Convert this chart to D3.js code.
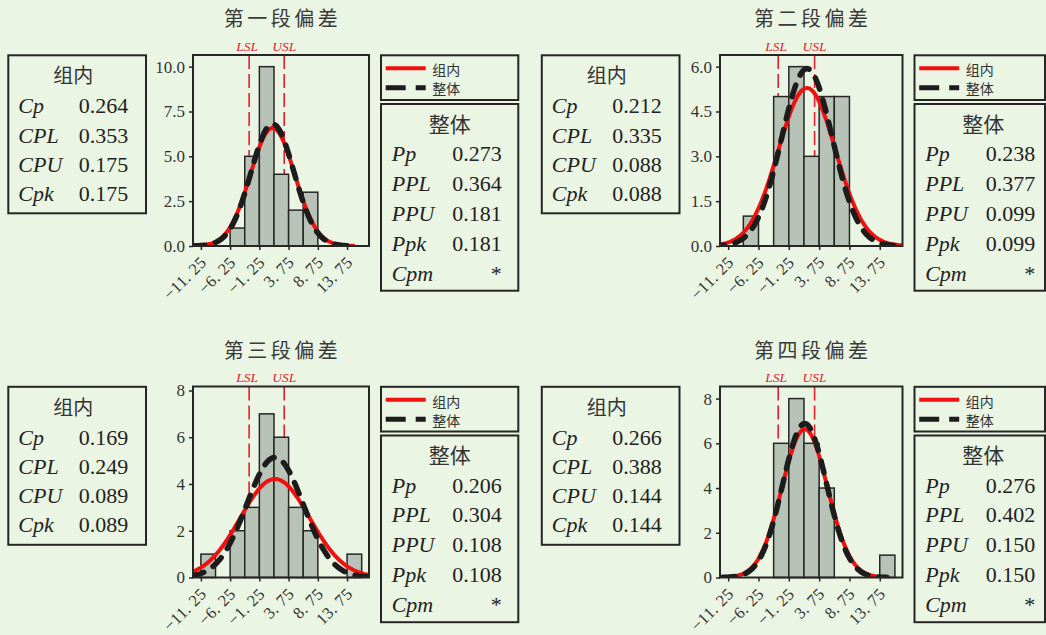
<!DOCTYPE html>
<html>
<head>
<meta charset="utf-8">
<script src="https://cdn.jsdelivr.net/npm/d3@7"></script>
<style>
  body { margin: 0; background: #ebf5e3; }
  svg { display: block; }
</style>
</head>
<body>
<svg id="chart"></svg>
<script>
const titles = ['第一段偏差', '第二段偏差', '第三段偏差', '第四段偏差'];
const binStarts = [-11.25, -8.75, -6.25, -3.75, -1.25, 1.25, 3.75, 6.25, 8.75, 11.25, 13.75];
const binWidth = 2.5;
const counts = [
  [0, 0, 1, 5, 10, 4, 2, 3, 0, 0, 0],
  [0, 1, 0, 5, 6, 3, 5, 5, 0, 0, 0],
  [1, 0, 2, 3, 7, 6, 3, 2, 0, 0, 1],
  [0, 0, 0, 6, 8, 6, 4, 0, 0, 0, 1]
];
const withinLabels = ['Cp', 'CPL', 'CPU', 'Cpk'];
const withinValues = [
  ['0.264', '0.353', '0.175', '0.175'],
  ['0.212', '0.335', '0.088', '0.088'],
  ['0.169', '0.249', '0.089', '0.089'],
  ['0.266', '0.388', '0.144', '0.144']
];
const overallLabels = ['Pp', 'PPL', 'PPU', 'Ppk', 'Cpm'];
const overallValues = [
  ['0.273', '0.364', '0.181', '0.181', '*'],
  ['0.238', '0.377', '0.099', '0.099', '*'],
  ['0.206', '0.304', '0.108', '0.108', '*'],
  ['0.276', '0.402', '0.150', '0.150', '*']
];
const xTicks = [-11.25, -6.25, -1.25, 3.75, 8.75, 13.75];
const yTicks = [[0, 2.5, 5, 7.5, 10], [0, 1.5, 3, 4.5, 6], [0, 2, 4, 6, 8], [0, 2, 4, 6, 8]];
const yMax = [10.65, 6.39, 8.17, 8.54];
const specLow = -3, specHigh = 3;
const sampleSize = 25;
const legendNames = ['组内', '整体'];

const W = 1046, H = 635;
const serif = "'Liberation Serif', 'Times New Roman', serif";
const cjk = "'Noto Sans CJK SC', 'Noto Sans', sans-serif";
const red = '#f01010';
const specRed = '#e3202b';
const ink = '#262626';

const svg = d3.select('#chart').attr('width', W).attr('height', H);
svg.append('rect').attr('width', W).attr('height', H).attr('fill', '#ebf5e3');

const colX = [0, 533.5];
const rowY = [0, 331.5];
const frameLeft = [193, 720];

// normal curve from the capability indices: sigma = (USL-LSL)/(6*Cp), mean from CPL
const fit = (cp, cpl) => {
  const sigma = (specHigh - specLow) / (6 * cp);
  return { sigma, mean: specLow + 3 * sigma * cpl };
};

titles.forEach((title, p) => {
  const col = p % 2, row = Math.floor(p / 2);
  const dx = colX[col], dy = rowY[row];
  const left = frameLeft[col], right = 369 + dx;
  const top = 55 + dy, bottom = 246 + dy;

  const x = d3.scaleLinear().domain([-12.6, 17.5]).range([left, right]);
  const y = d3.scaleLinear().domain([0, yMax[p]]).range([bottom, top]);

  const g = svg.append('g');

  g.append('text')
    .attr('x', (left + right) / 2 + 1.5)
    .attr('y', 26 + dy)
    .attr('text-anchor', 'middle')
    .attr('font-family', cjk)
    .attr('font-size', 20)
    .attr('letter-spacing', 3.5)
    .attr('fill', '#3a3a3a')
    .text(title);

  // spec limits
  [specLow, specHigh].forEach((v, i) => {
    g.append('line')
      .attr('x1', x(v)).attr('x2', x(v))
      .attr('y1', top).attr('y2', bottom)
      .attr('stroke', specRed)
      .attr('stroke-width', 1.6)
      .attr('stroke-dasharray', '14,5');
    g.append('text')
      .attr('x', x(v) - (i === 0 ? 2 : 0))
      .attr('y', top - 4.5)
      .attr('text-anchor', 'middle')
      .attr('font-family', serif)
      .attr('font-style', 'italic')
      .attr('font-size', 13.5)
      .attr('fill', specRed)
      .text(i === 0 ? 'LSL' : 'USL');
  });

  // histogram
  g.append('g').selectAll('rect')
    .data(binStarts.map((s, i) => ({ s, c: counts[p][i] })).filter(d => d.c > 0))
    .join('rect')
    .attr('x', d => x(d.s))
    .attr('width', d => x(d.s + binWidth) - x(d.s))
    .attr('y', d => y(d.c))
    .attr('height', d => y(0) - y(d.c))
    .attr('fill', '#b8c3b8')
    .attr('stroke', ink)
    .attr('stroke-width', 1.5);

  const clipId = `clip${p}`;
  svg.append('clipPath').attr('id', clipId)
    .append('rect').attr('x', left).attr('y', top).attr('width', right - left).attr('height', bottom - top);

  const line = d3.line().x(d => x(d[0])).y(d => y(d[1]));
  const curve = ({ mean, sigma }) => {
    const lo = mean - 3.719 * sigma, hi = mean + 3.719 * sigma;
    return d3.range(201).map(i => {
      const v = lo + (hi - lo) * i / 200;
      const dens = Math.exp(-0.5 * ((v - mean) / sigma) ** 2) / (sigma * Math.sqrt(2 * Math.PI));
      return [v, dens * sampleSize * binWidth];
    });
  };
  const within = fit(+withinValues[p][0], +withinValues[p][1]);
  const overall = fit(+overallValues[p][0], +overallValues[p][1]);

  const curves = g.append('g').attr('clip-path', `url(#${clipId})`);
  curves.append('path')
    .attr('d', line(curve(within)))
    .attr('fill', 'none')
    .attr('stroke', red)
    .attr('stroke-width', 4);
  curves.append('path')
    .attr('d', line(curve(overall)))
    .attr('fill', 'none')
    .attr('stroke', '#1c1c1c')
    .attr('stroke-width', 5.5)
    .attr('stroke-linecap', 'round')
    .attr('stroke-dasharray', '12,11');

  g.append('rect')
    .attr('x', left).attr('y', top)
    .attr('width', right - left).attr('height', bottom - top)
    .attr('fill', 'none')
    .attr('stroke', ink)
    .attr('stroke-width', 2);

  // axes
  const yAxis = g.append('g')
    .attr('transform', `translate(${left},0)`)
    .call(d3.axisLeft(y).tickValues(yTicks[p]).tickSize(4).tickPadding(4)
      .tickFormat(d3.format(p < 2 ? '.1f' : 'd')));
  yAxis.select('.domain').remove();
  yAxis.selectAll('text').attr('font-family', serif).attr('font-size', 17).attr('fill', '#333');
  yAxis.selectAll('line').attr('stroke', ink).attr('stroke-width', 1.5);

  const xAxis = g.append('g')
    .attr('transform', `translate(0,${bottom})`)
    .call(d3.axisBottom(x).tickValues(xTicks).tickSize(4)
      .tickFormat(d => (d < 0 ? '−' : '') + Math.abs(d).toFixed(2).replace('.', '. ')));
  xAxis.select('.domain').remove();
  xAxis.selectAll('line').attr('stroke', ink).attr('stroke-width', 1.5);
  xAxis.selectAll('text')
    .attr('x', 0).attr('y', 0).attr('dy', 0)
    .attr('text-anchor', 'end')
    .attr('transform', 'translate(6,17.5) rotate(-45)')
    .attr('font-family', serif)
    .attr('font-size', 16.5)
    .attr('letter-spacing', 0.4)
    .attr('fill', '#333');

  // within box
  const bx = 8.3 + dx, by = 55.3 + dy;
  g.append('rect')
    .attr('x', bx).attr('y', by).attr('width', 137.7).attr('height', 158)
    .attr('fill', 'none').attr('stroke', ink).attr('stroke-width', 2);
  g.append('text')
    .attr('x', bx + 65).attr('y', by + 27.7)
    .attr('text-anchor', 'middle')
    .attr('font-family', cjk).attr('font-size', 20).attr('fill', '#333')
    .text(legendNames[0]);
  withinLabels.forEach((lab, i) => {
    const yy = by + 58 + 29.2 * i;
    g.append('text').attr('x', bx + 10).attr('y', yy)
      .attr('font-family', serif).attr('font-style', 'italic').attr('font-size', 22).attr('fill', '#222')
      .text(lab);
    g.append('text').attr('x', bx + 120).attr('y', yy)
      .attr('text-anchor', 'end')
      .attr('font-family', serif).attr('font-size', 22).attr('fill', '#222')
      .text(withinValues[p][i]);
  });

  // legend box
  const lx = 381 + dx, boxW = Math.min(137.3, W - 1 - lx);
  const ly = 55.3 + dy;
  g.append('rect')
    .attr('x', lx).attr('y', ly).attr('width', boxW).attr('height', 44.7)
    .attr('fill', 'none').attr('stroke', ink).attr('stroke-width', 2);
  g.append('line')
    .attr('x1', lx + 4.7).attr('x2', lx + 44.7).attr('y1', ly + 13).attr('y2', ly + 13)
    .attr('stroke', red).attr('stroke-width', 4);
  g.append('line')
    .attr('x1', lx + 4.7).attr('x2', lx + 44.7).attr('y1', ly + 32.4).attr('y2', ly + 32.4)
    .attr('stroke', '#1c1c1c').attr('stroke-width', 5).attr('stroke-dasharray', '20,10');
  legendNames.forEach((n, i) => {
    g.append('text')
      .attr('x', lx + 51.3).attr('y', ly + 19.7 + 19 * i)
      .attr('font-family', cjk).attr('font-size', 14).attr('fill', '#333')
      .text(n);
  });

  // overall box
  const oy = 104 + dy;
  g.append('rect')
    .attr('x', lx).attr('y', oy).attr('width', boxW).attr('height', 186.7)
    .attr('fill', 'none').attr('stroke', ink).attr('stroke-width', 2);
  g.append('text')
    .attr('x', lx + 68.7).attr('y', oy + 27.5)
    .attr('text-anchor', 'middle')
    .attr('font-family', cjk).attr('font-size', 21).attr('fill', '#333')
    .text(legendNames[1]);
  overallLabels.forEach((lab, i) => {
    const yy = oy + 57 + 29.9 * i;
    g.append('text').attr('x', lx + 10.7).attr('y', yy)
      .attr('font-family', serif).attr('font-style', 'italic').attr('font-size', 22).attr('fill', '#222')
      .text(lab);
    g.append('text').attr('x', lx + 120.7).attr('y', yy)
      .attr('text-anchor', 'end')
      .attr('font-family', serif).attr('font-size', 22).attr('fill', '#222')
      .text(overallValues[p][i]);
  });
});
</script>
</body>
</html>
